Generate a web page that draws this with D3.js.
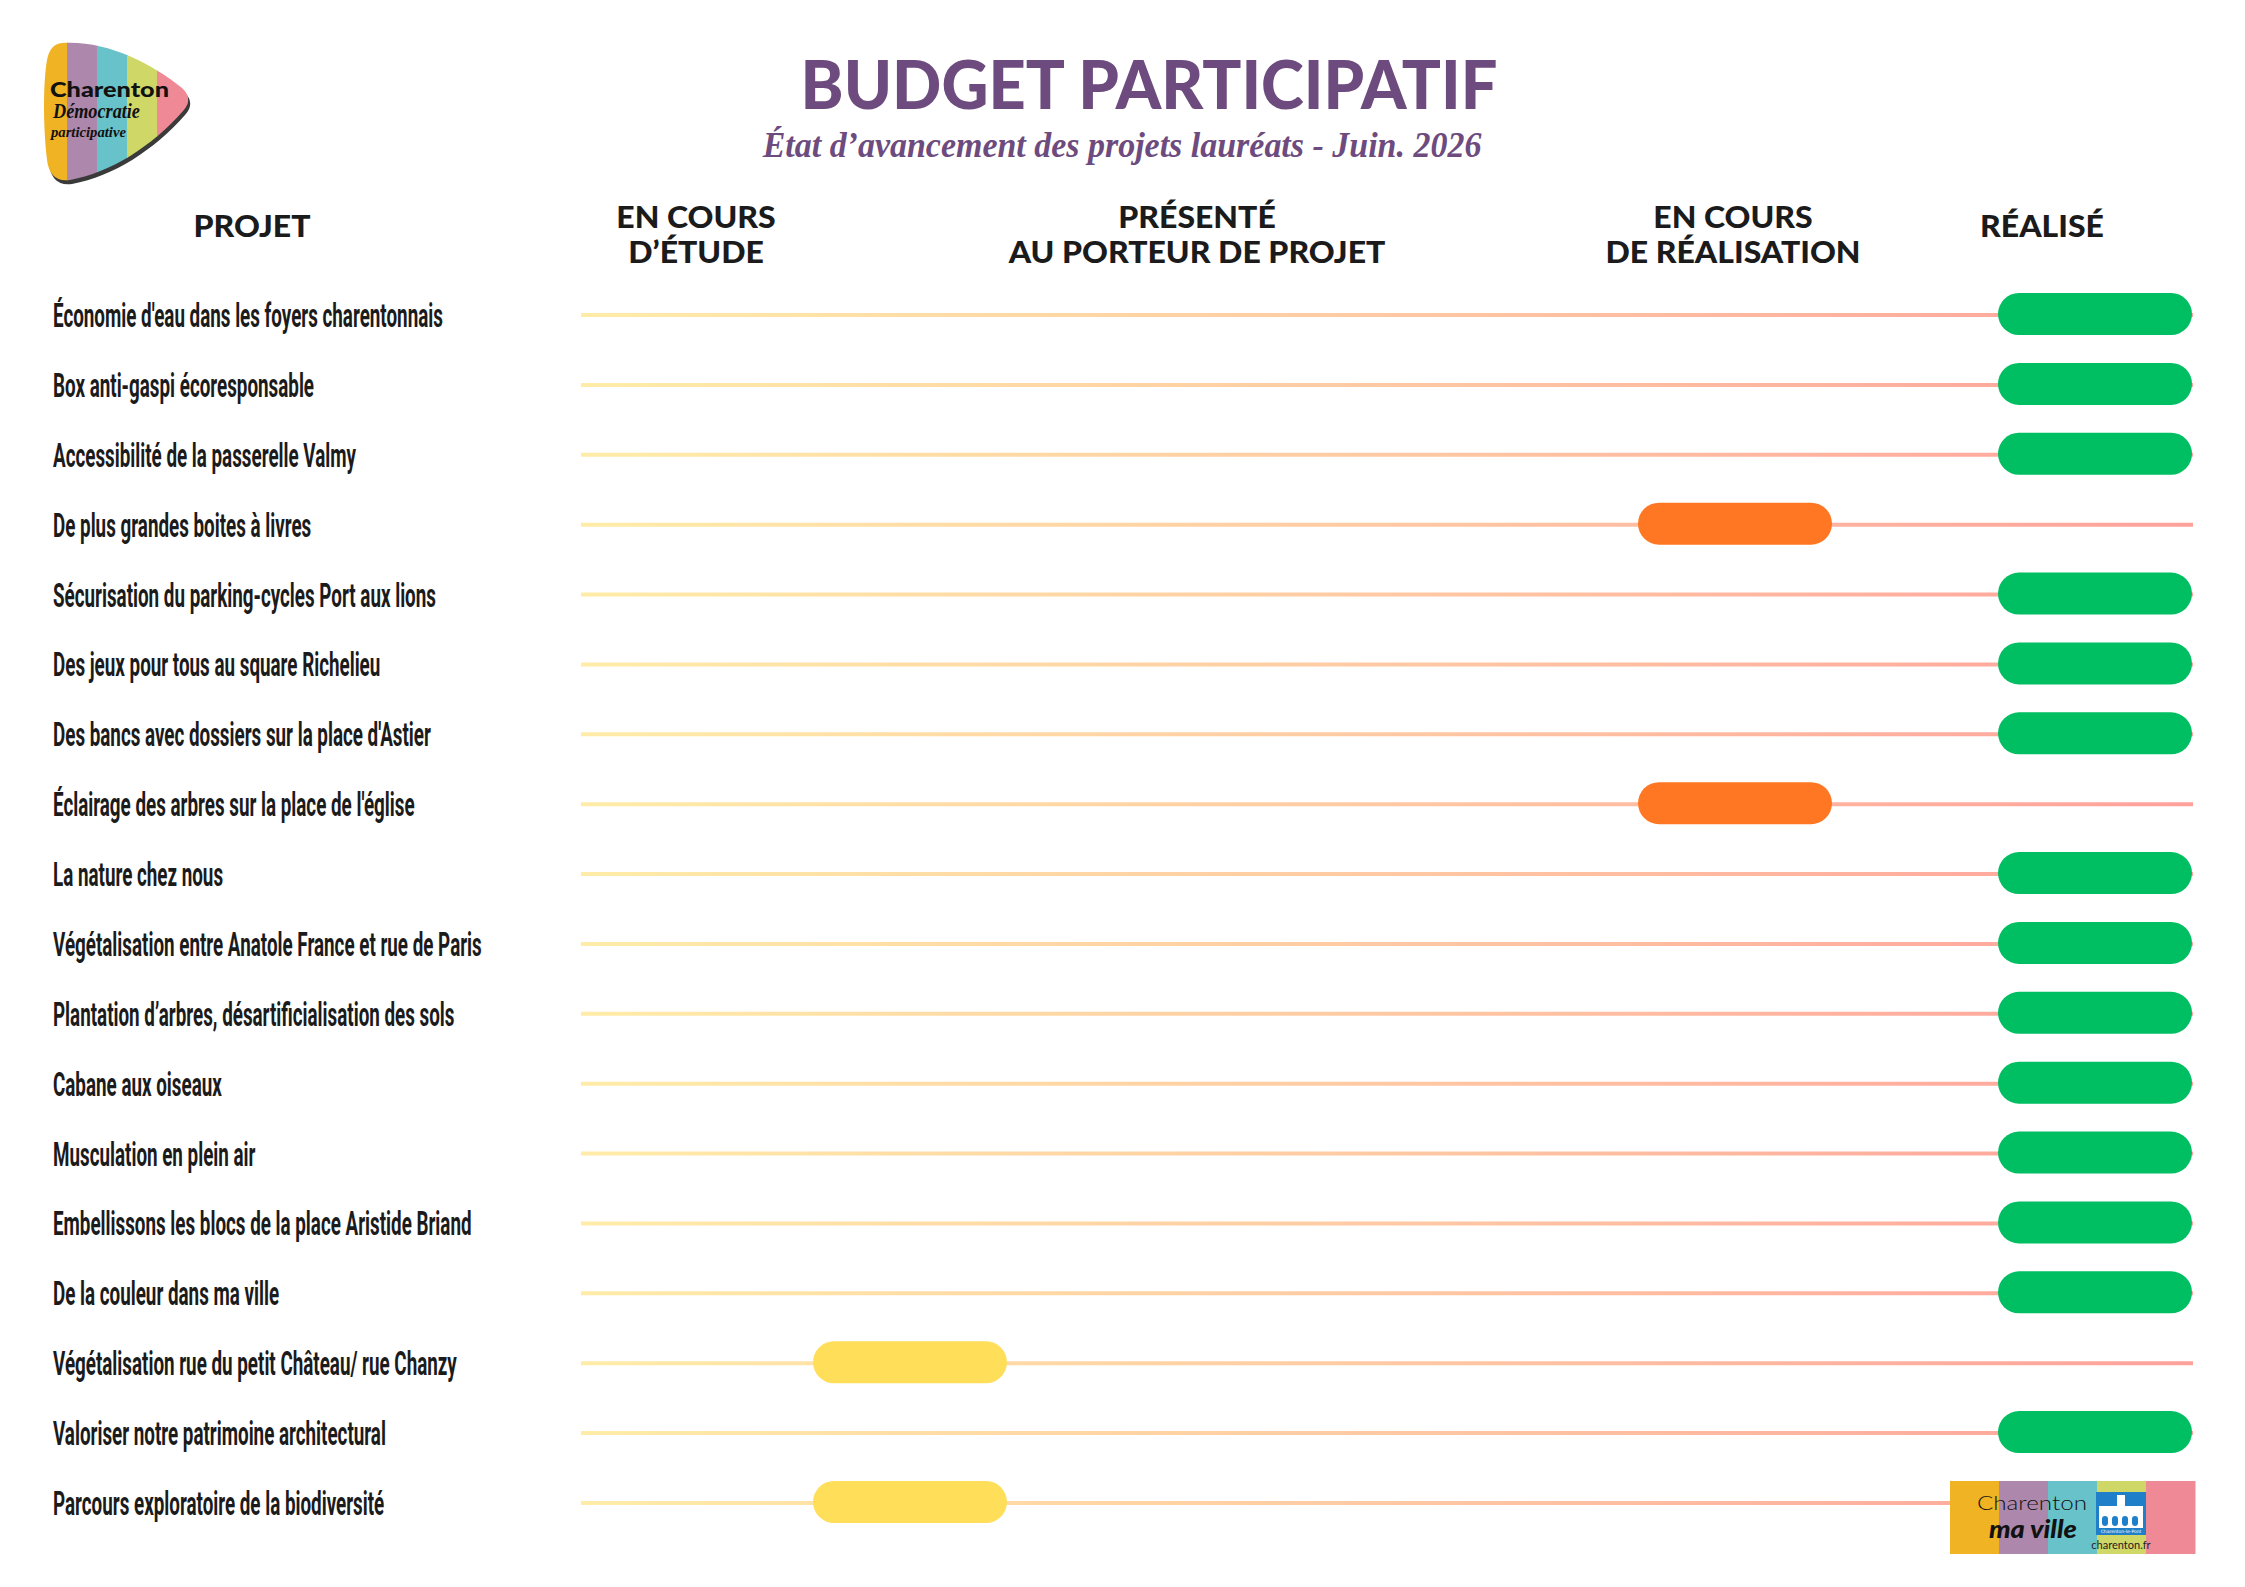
<!DOCTYPE html>
<html>
<head>
<meta charset="utf-8">
<script src="https://cdn.jsdelivr.net/npm/d3@7"></script>
<style>
  body { margin: 0; background: #fff; }
</style>
</head>
<body>
<div id="chart"></div>
<script>
// Data ----------------------------------------------
const projects = [
  "Économie d'eau dans les foyers charentonnais",
  "Box anti-gaspi écoresponsable",
  "Accessibilité de la passerelle Valmy",
  "De plus grandes boites à livres",
  "Sécurisation du parking-cycles Port aux lions",
  "Des jeux pour tous au square Richelieu",
  "Des bancs avec dossiers sur la place d'Astier",
  "Éclairage des arbres sur la place de l'église",
  "La nature chez nous",
  "Végétalisation entre Anatole France et rue de Paris",
  "Plantation d’arbres, désartificialisation des sols",
  "Cabane aux oiseaux",
  "Musculation en plein air",
  "Embellissons les blocs de la place Aristide Briand",
  "De la couleur dans ma ville",
  "Végétalisation rue du petit Château/ rue Chanzy",
  "Valoriser notre patrimoine architectural",
  "Parcours exploratoire de la biodiversité"
];

const stages = ["etude", "presente", "realisation", "realise"];

const projectStages = [
  "realise", "realise", "realise", "realisation", "realise", "realise",
  "realise", "realisation", "realise", "realise", "realise", "realise",
  "realise", "realise", "realise", "etude", "realise", "etude"
];

const stageHeaders = [
  ["EN COURS", "D’ÉTUDE"],
  ["PRÉSENTÉ", "AU PORTEUR DE PROJET"],
  ["EN COURS", "DE RÉALISATION"],
  ["RÉALISÉ"]
];

// Constants ----------------------------------------------
const width = 2245;
const height = 1587;

const purple = "#6d4b7e";
const ink = "#1b1b1b";
const stageColors = ["#ffde59", "#ffb84d", "#ff7722", "#00be62"];
const logoColors = ["#f0b323", "#ad88ac", "#68c2c9", "#cfd866", "#ef8995"];

const lineStart = 581;
const lineEnd = 2193;
const pillWidth = 194;
const pillHeight = 42;

// Scale functions ----------------------------------------------
const yScale = d3.scalePoint()
  .domain(projects)
  .range([315, 1503]);

const headerX = d3.scaleOrdinal()
  .domain(stages)
  .range([696, 1197, 1733, 2042]);

const pillX = d3.scaleOrdinal()
  .domain(stages)
  .range([910, 1197, 1735, 2095]);

const stageColor = d3.scaleOrdinal()
  .domain(stages)
  .range(stageColors);

// Functions ----------------------------------------------

// factor to squeeze a text horizontally to the wanted width
function squeeze(node, target) {
  const w = node.getComputedTextLength();
  return target / w;
}

// put a text at x,y and stretch it to a width
function placeFit(sel, x, y, target) {
  sel.attr("transform", `translate(${x},${y}) scale(${squeeze(sel.node(), target)},1)`);
}

const svg = d3.select("#chart")
  .append("svg")
  .attr("width", width)
  .attr("height", height)
  .style("background", "#fff");

const defs = svg.append("defs");

const grad = defs.append("linearGradient")
  .attr("id", "rowGrad")
  .attr("gradientUnits", "userSpaceOnUse")
  .attr("x1", lineStart).attr("x2", lineEnd)
  .attr("y1", 0).attr("y2", 0);
grad.append("stop").attr("offset", "0%").attr("stop-color", "#ffeca8");
grad.append("stop").attr("offset", "50%").attr("stop-color", "#ffc9a3");
grad.append("stop").attr("offset", "100%").attr("stop-color", "#ffa19c");

// Title
const title = svg.append("text")
  .attr("text-anchor", "middle")
  .attr("font-family", "Lato")
  .attr("font-weight", 900)
  .attr("font-size", 66)
  .attr("fill", purple)
  .text("BUDGET PARTICIPATIF");
placeFit(title, 1149, 109, 697);

const subtitle = svg.append("text")
  .attr("text-anchor", "middle")
  .attr("font-family", "Liberation Serif")
  .attr("font-style", "italic")
  .attr("font-weight", 700)
  .attr("font-size", 36)
  .attr("fill", purple)
  .text("État d’avancement des projets lauréats - Juin. 2026");
placeFit(subtitle, 1122, 157, 719);

// Column headers
const headerFont = { family: "Lato", weight: 900, size: 31 };

const projetHead = svg.append("text")
  .attr("text-anchor", "middle")
  .attr("font-family", headerFont.family)
  .attr("font-weight", headerFont.weight)
  .attr("font-size", headerFont.size)
  .attr("fill", ink)
  .text("PROJET");
const headK = 117 / projetHead.node().getComputedTextLength();
projetHead.attr("transform", `translate(252,237) scale(${headK},1)`);

const headG = svg.append("g")
  .selectAll("g")
  .data(stages)
  .enter()
  .append("g")
  .attr("transform", (d, i) => {
    const yb = stageHeaders[i].length === 1 ? 237 : 228;
    return `translate(${headerX(d)},${yb}) scale(${headK},1)`;
  });

headG.selectAll("text")
  .data((d, i) => stageHeaders[i])
  .enter()
  .append("text")
  .attr("text-anchor", "middle")
  .attr("font-family", headerFont.family)
  .attr("font-weight", headerFont.weight)
  .attr("font-size", headerFont.size)
  .attr("fill", ink)
  .attr("y", (d, i) => i * 35)
  .text(d => d);

// Row lines
svg.append("g")
  .selectAll("line")
  .data(projects)
  .enter()
  .append("line")
  .attr("x1", lineStart)
  .attr("x2", lineEnd)
  .attr("y1", d => yScale(d))
  .attr("y2", d => yScale(d))
  .attr("stroke", "url(#rowGrad)")
  .attr("stroke-width", 4);

// Project labels
const labels = svg.append("g")
  .selectAll("text")
  .data(projects)
  .enter()
  .append("text")
  .attr("font-family", "Roboto")
  .attr("font-weight", 700)
  .attr("font-size", 34)
  .attr("fill", ink)
  .text(d => d);

const labelK = squeeze(labels.node(), 390);
labels.attr("transform", d => `translate(53,${yScale(d) + 12}) scale(${labelK},1)`);

// Status pills
svg.append("g")
  .selectAll("rect")
  .data(projects)
  .enter()
  .append("rect")
  .attr("x", (d, i) => pillX(projectStages[i]) - pillWidth / 2)
  .attr("y", d => yScale(d) - pillHeight / 2 - 1)
  .attr("width", pillWidth)
  .attr("height", pillHeight)
  .attr("rx", 21)
  .attr("fill", (d, i) => stageColor(projectStages[i]));

// Logo top left ----------------------------------------------
const pickPath = "M62,43 C105,40 150,62 182,88 Q194,99 183,111 C152,146 112,172 70,180 Q50,183 47,160 C43,128 43,82 47,60 Q50,44 62,43 Z";

defs.append("clipPath").attr("id", "pickClip")
  .append("path").attr("d", pickPath);

const logo = svg.append("g");
logo.append("path")
  .attr("d", pickPath)
  .attr("transform", "translate(2,4)")
  .attr("fill", "#3a3a3a");

logo.append("g")
  .attr("clip-path", "url(#pickClip)")
  .selectAll("rect")
  .data(logoColors)
  .enter()
  .append("rect")
  .attr("x", (d, i) => 37 + i * 30)
  .attr("y", 30)
  .attr("width", 31)
  .attr("height", 160)
  .attr("fill", d => d);

const logoT1 = logo.append("text")
  .attr("font-family", "Lato").attr("font-weight", 900)
  .attr("font-size", 21).attr("fill", "#111")
  .text("Charenton");
placeFit(logoT1, 50, 97, 119);

const logoT2 = logo.append("text")
  .attr("font-family", "Liberation Serif").attr("font-style", "italic").attr("font-weight", 700)
  .attr("font-size", 20).attr("fill", "#111")
  .text("Démocratie");
placeFit(logoT2, 53, 118, 87);

const logoT3 = logo.append("text")
  .attr("font-family", "Liberation Serif").attr("font-style", "italic").attr("font-weight", 700)
  .attr("font-size", 15).attr("fill", "#111")
  .text("participative");
placeFit(logoT3, 51, 137, 75);

// Logo bottom right ----------------------------------------------
const logo2 = svg.append("g").attr("transform", "translate(1950,1481)");

logo2.selectAll("rect")
  .data(logoColors)
  .enter()
  .append("rect")
  .attr("x", (d, i) => i * 49)
  .attr("y", 0)
  .attr("width", 49.5)
  .attr("height", 73)
  .attr("fill", d => d);

const logo2T1 = logo2.append("text")
  .attr("font-family", "Lato").attr("font-weight", 300)
  .attr("font-size", 20).attr("fill", "#111")
  .text("Charenton");
placeFit(logo2T1, 27, 29, 110);

const logo2T2 = logo2.append("text")
  .attr("font-family", "Lato").attr("font-style", "italic").attr("font-weight", 900)
  .attr("font-size", 24).attr("fill", "#111")
  .text("ma ville");
placeFit(logo2T2, 39, 57, 88);

// castle badge
const castle = logo2.append("g").attr("transform", "translate(146,11)");
castle.append("rect").attr("width", 50).attr("height", 43).attr("fill", "#1f7fc9");
castle.append("rect").attr("x", 3).attr("y", 14).attr("width", 44).attr("height", 22).attr("fill", "#fff");
castle.append("rect").attr("x", 21).attr("y", 3).attr("width", 8).attr("height", 12).attr("fill", "#fff");
castle.selectAll(".arch")
  .data([0, 1, 2, 3])
  .enter()
  .append("rect")
  .attr("class", "arch")
  .attr("x", d => 6 + d * 10)
  .attr("y", 24)
  .attr("width", 6)
  .attr("height", 10)
  .attr("rx", 3)
  .attr("fill", "#1f7fc9");
castle.append("text")
  .attr("x", 25).attr("y", 41)
  .attr("text-anchor", "middle")
  .attr("font-family", "DejaVu Sans").attr("font-size", 4.5).attr("fill", "#fff")
  .text("Charenton-le-Pont");
logo2.append("text")
  .attr("x", 171).attr("y", 68)
  .attr("text-anchor", "middle")
  .attr("font-family", "Lato").attr("font-size", 11).attr("fill", "#222")
  .text("charenton.fr");
</script>
</body>
</html>
